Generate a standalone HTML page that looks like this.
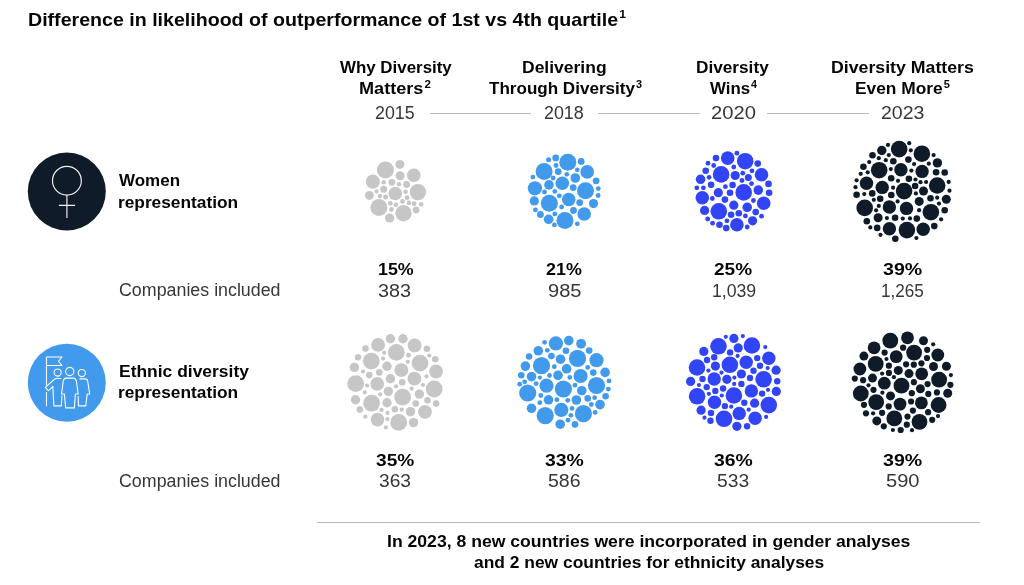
<!DOCTYPE html>
<html lang="en">
<head>
<meta charset="utf-8">
<title>Difference in likelihood of outperformance</title>
<style>
html,body{margin:0;padding:0;background:#fff;}
body{width:1024px;height:585px;position:relative;overflow:hidden;font-family:"Liberation Sans",sans-serif;color:#000;}
.t{position:absolute;white-space:nowrap;line-height:20px;transform-origin:0 50%;}
.b{font-weight:700;font-size:16.5px;color:#050505;}
.r{font-weight:400;font-size:17.5px;color:#363636;}
sup{font-size:10.5px;line-height:0;vertical-align:baseline;position:relative;top:-6px;letter-spacing:0;margin-left:1px;}
.title{font-size:18.5px;font-weight:700;line-height:22px;color:#050505;}
.title sup{font-size:11.5px;top:-8px;}
.ln{position:absolute;height:1px;background:#b3bcc0;top:112.6px;}
.rule{position:absolute;left:317px;width:663px;top:521.6px;height:1.2px;background:#b9b9b9;}
svg{position:absolute;left:0;top:0;}
</style>
</head>
<body>
<div class="t title" style="left:28.46px;top:9.3px;transform:scaleX(1.0592);">Difference in likelihood of outperformance of 1st vs 4th quartile<sup>1</sup></div>
<div class="t b" style="left:339.64px;top:56.6px;transform:scaleX(1.0241);">Why Diversity</div>
<div class="t b" style="left:359.12px;top:77.9px;transform:scaleX(1.0967);">Matters<sup>2</sup></div>
<div class="t r" style="left:374.98px;top:102.5px;transform:scaleX(1.0157);">2015</div>
<div class="t b" style="left:522.02px;top:56.6px;transform:scaleX(1.0601);">Delivering</div>
<div class="t b" style="left:489.13px;top:77.9px;transform:scaleX(1.0334);">Through Diversity<sup>3</sup></div>
<div class="t r" style="left:543.61px;top:102.5px;transform:scaleX(1.0201);">2018</div>
<div class="t b" style="left:696.48px;top:56.6px;transform:scaleX(1.0430);">Diversity</div>
<div class="t b" style="left:709.60px;top:77.9px;transform:scaleX(1.0199);">Wins<sup>4</sup></div>
<div class="t r" style="left:711.10px;top:102.5px;transform:scaleX(1.1525);">2020</div>
<div class="t b" style="left:830.53px;top:56.6px;transform:scaleX(1.0743);">Diversity Matters</div>
<div class="t b" style="left:854.95px;top:77.9px;transform:scaleX(1.0511);">Even More<sup>5</sup></div>
<div class="t r" style="left:880.83px;top:102.5px;transform:scaleX(1.1154);">2023</div>
<div class="t b" style="left:118.70px;top:170.1px;transform:scaleX(1.0291);">Women</div>
<div class="t b" style="left:117.59px;top:191.7px;transform:scaleX(1.0474);">representation</div>
<div class="t r" style="left:118.82px;top:280.3px;transform:scaleX(1.0187);">Companies included</div>
<div class="t b" style="left:119.06px;top:361px;transform:scaleX(1.0571);">Ethnic diversity</div>
<div class="t b" style="left:117.59px;top:382.4px;transform:scaleX(1.0474);">representation</div>
<div class="t r" style="left:118.82px;top:471.4px;transform:scaleX(1.0187);">Companies included</div>
<div class="t b" style="left:378.15px;top:259.4px;transform:scaleX(1.0794);">15%</div>
<div class="t r" style="left:378.48px;top:280.6px;transform:scaleX(1.1287);">383</div>
<div class="t b" style="left:546.15px;top:259.4px;transform:scaleX(1.0844);">21%</div>
<div class="t r" style="left:547.72px;top:280.6px;transform:scaleX(1.1478);">985</div>
<div class="t b" style="left:714.36px;top:259.4px;transform:scaleX(1.1524);">25%</div>
<div class="t r" style="left:711.52px;top:280.6px;transform:scaleX(1.0085);">1,039</div>
<div class="t b" style="left:883.09px;top:259.4px;transform:scaleX(1.1867);">39%</div>
<div class="t r" style="left:881.24px;top:280.6px;transform:scaleX(0.9795);">1,265</div>
<div class="t b" style="left:376.03px;top:450.2px;transform:scaleX(1.1593);">35%</div>
<div class="t r" style="left:378.78px;top:471.4px;transform:scaleX(1.0949);">363</div>
<div class="t b" style="left:545.15px;top:450.2px;transform:scaleX(1.1744);">33%</div>
<div class="t r" style="left:548.06px;top:471.4px;transform:scaleX(1.1148);">586</div>
<div class="t b" style="left:714.15px;top:450.2px;transform:scaleX(1.1742);">36%</div>
<div class="t r" style="left:717.41px;top:471.4px;transform:scaleX(1.0989);">533</div>
<div class="t b" style="left:883.09px;top:450.2px;transform:scaleX(1.1867);">39%</div>
<div class="t r" style="left:886.12px;top:471.4px;transform:scaleX(1.1484);">590</div>
<div class="t b" style="left:386.53px;top:530.6px;transform:scaleX(1.0669);">In 2023, 8 new countries were incorporated in gender analyses</div>
<div class="t b" style="left:474.20px;top:551.8px;transform:scaleX(1.0551);">and 2 new countries for ethnicity analyses</div>
<div class="ln" style="left:429.5px;width:101px"></div>
<div class="ln" style="left:598px;width:101.5px"></div>
<div class="ln" style="left:767.2px;width:102px"></div>
<div class="rule"></div>
<svg width="1024" height="585" viewBox="0 0 1024 585">
<circle cx="66.8" cy="191.5" r="39" fill="#0f1b29"/>
<g fill="none" stroke="#f2f2f2" stroke-width="1.15">
<circle cx="66.9" cy="180.7" r="14.4"/>
<path d="M66.9 195.3V217.9M58.9 205.3H75.1"/>
</g>
<circle cx="66.8" cy="382.7" r="39" fill="#429aec"/>
<g transform="translate(40 352) scale(0.10256)" fill="none" stroke="#ffffff" stroke-width="10.5" stroke-linejoin="round" stroke-linecap="butt">
<path d="M63 325V48H215L180 90L215 132H63"/>
<path d="M63 390V530"/>
<circle cx="172" cy="200" r="35"/>
<circle cx="290" cy="190" r="40"/>
<circle cx="408" cy="205" r="35"/>
<path d="M205 258H160Q148 258 138 268L52 345L82 378L125 335L135 525H208L214 425"/>
<path d="M258 255H325Q350 255 355 285L372 410H345L335 545H250L238 410H210L226 285Q230 255 258 255Z"/>
<path d="M385 262H440Q462 262 466 290L485 410H460L447 525H375L372 430"/>
</g>

<g fill="#c6c6c6">
<circle cx="385.4" cy="170.1" r="8.5"/>
<circle cx="399.9" cy="164.4" r="4.5"/>
<circle cx="413.8" cy="175.3" r="6.8"/>
<circle cx="400.1" cy="175.7" r="4.5"/>
<circle cx="372.8" cy="181.7" r="7.1"/>
<circle cx="417.9" cy="192.1" r="8.2"/>
<circle cx="395.3" cy="193.5" r="6.8"/>
<circle cx="378.9" cy="207.4" r="8.5"/>
<circle cx="403.5" cy="213.2" r="8.2"/>
<circle cx="389.6" cy="218.0" r="4.6"/>
<circle cx="369.4" cy="195.4" r="4.5"/>
<circle cx="391.9" cy="182.3" r="3.4"/>
<circle cx="406.6" cy="184.5" r="3.4"/>
<circle cx="383.7" cy="189.2" r="3.5"/>
<circle cx="383.7" cy="182.3" r="2.3"/>
<circle cx="399.0" cy="184.2" r="2.3"/>
<circle cx="376.6" cy="191.4" r="2.1"/>
<circle cx="379.9" cy="196.1" r="2.3"/>
<circle cx="385.6" cy="197.0" r="2.5"/>
<circle cx="405.6" cy="191.8" r="2.3"/>
<circle cx="407.1" cy="197.7" r="2.4"/>
<circle cx="402.5" cy="201.4" r="2.4"/>
<circle cx="390.3" cy="203.3" r="2.4"/>
<circle cx="395.8" cy="204.7" r="2.3"/>
<circle cx="391.5" cy="209.5" r="2.4"/>
<circle cx="409.0" cy="202.9" r="2.3"/>
<circle cx="414.1" cy="203.7" r="2.4"/>
<circle cx="421.1" cy="204.3" r="2.3"/>
<circle cx="416.1" cy="210.0" r="3.4"/>
</g>
<g fill="#429aec">
<circle cx="567.8" cy="162.3" r="8.5"/>
<circle cx="544.1" cy="171.5" r="8.5"/>
<circle cx="587.2" cy="171.9" r="6.8"/>
<circle cx="534.9" cy="188.3" r="7.1"/>
<circle cx="585.5" cy="190.8" r="8.5"/>
<circle cx="562.3" cy="183.2" r="6.8"/>
<circle cx="568.7" cy="199.5" r="6.8"/>
<circle cx="549.3" cy="203.3" r="8.5"/>
<circle cx="565.0" cy="220.4" r="8.5"/>
<circle cx="584.2" cy="214.0" r="6.8"/>
<circle cx="555.7" cy="157.9" r="3.4"/>
<circle cx="548.6" cy="159.8" r="2.5"/>
<circle cx="581.2" cy="161.4" r="3.4"/>
<circle cx="556.1" cy="165.5" r="2.4"/>
<circle cx="558.2" cy="171.6" r="3.4"/>
<circle cx="577.3" cy="169.8" r="2.4"/>
<circle cx="566.8" cy="174.3" r="2.4"/>
<circle cx="575.3" cy="178.0" r="4.8"/>
<circle cx="532.9" cy="177.1" r="2.4"/>
<circle cx="553.1" cy="178.0" r="2.4"/>
<circle cx="549.0" cy="184.9" r="4.8"/>
<circle cx="596.1" cy="180.8" r="3.4"/>
<circle cx="573.2" cy="187.6" r="3.4"/>
<circle cx="598.3" cy="188.6" r="2.4"/>
<circle cx="544.5" cy="192.0" r="2.4"/>
<circle cx="554.8" cy="191.4" r="2.4"/>
<circle cx="559.3" cy="195.8" r="2.4"/>
<circle cx="598.1" cy="195.5" r="2.4"/>
<circle cx="534.3" cy="200.9" r="4.6"/>
<circle cx="579.7" cy="202.6" r="3.4"/>
<circle cx="593.5" cy="203.6" r="4.6"/>
<circle cx="561.6" cy="207.0" r="2.4"/>
<circle cx="535.4" cy="209.9" r="2.4"/>
<circle cx="573.5" cy="210.4" r="3.4"/>
<circle cx="540.4" cy="214.5" r="3.4"/>
<circle cx="554.8" cy="213.9" r="2.4"/>
<circle cx="548.6" cy="219.3" r="4.8"/>
<circle cx="554.4" cy="224.9" r="2.4"/>
<circle cx="577.3" cy="223.8" r="2.4"/>
</g>
<g fill="#3145f6">
<circle cx="727.7" cy="158.1" r="6.8"/>
<circle cx="745.2" cy="161.2" r="8.3"/>
<circle cx="721.1" cy="174.4" r="8.3"/>
<circle cx="761.5" cy="174.7" r="6.8"/>
<circle cx="743.7" cy="192.4" r="8.3"/>
<circle cx="702.3" cy="197.8" r="6.8"/>
<circle cx="763.7" cy="203.2" r="6.8"/>
<circle cx="718.8" cy="211.3" r="8.3"/>
<circle cx="736.9" cy="224.7" r="6.8"/>
<circle cx="700.6" cy="179.3" r="4.8"/>
<circle cx="735.2" cy="175.5" r="4.6"/>
<circle cx="758.3" cy="190.1" r="4.8"/>
<circle cx="718.3" cy="192.7" r="4.6"/>
<circle cx="733.8" cy="205.2" r="4.6"/>
<circle cx="747.2" cy="207.3" r="4.8"/>
<circle cx="704.6" cy="210.4" r="4.6"/>
<circle cx="752.6" cy="220.8" r="4.6"/>
<circle cx="716.0" cy="158.1" r="3.3"/>
<circle cx="736.9" cy="153.2" r="2.4"/>
<circle cx="757.7" cy="163.6" r="3.3"/>
<circle cx="708.0" cy="163.2" r="2.4"/>
<circle cx="713.7" cy="165.5" r="2.4"/>
<circle cx="733.8" cy="167.0" r="2.4"/>
<circle cx="705.7" cy="170.8" r="3.3"/>
<circle cx="752.0" cy="170.8" r="2.4"/>
<circle cx="742.8" cy="173.2" r="2.4"/>
<circle cx="709.1" cy="177.3" r="2.4"/>
<circle cx="748.3" cy="177.5" r="3.5"/>
<circle cx="742.0" cy="180.5" r="2.4"/>
<circle cx="711.1" cy="184.7" r="3.3"/>
<circle cx="751.5" cy="183.6" r="2.4"/>
<circle cx="768.5" cy="183.9" r="3.3"/>
<circle cx="732.6" cy="185.0" r="3.3"/>
<circle cx="725.4" cy="186.7" r="2.4"/>
<circle cx="696.8" cy="187.8" r="2.4"/>
<circle cx="703.4" cy="187.8" r="2.4"/>
<circle cx="730.0" cy="192.8" r="3.3"/>
<circle cx="769.1" cy="192.8" r="3.3"/>
<circle cx="712.3" cy="198.5" r="2.4"/>
<circle cx="724.9" cy="199.6" r="3.3"/>
<circle cx="753.4" cy="200.5" r="2.4"/>
<circle cx="755.7" cy="212.1" r="3.3"/>
<circle cx="738.8" cy="213.2" r="3.3"/>
<circle cx="731.1" cy="214.7" r="3.3"/>
<circle cx="745.4" cy="215.9" r="2.4"/>
<circle cx="761.5" cy="216.2" r="2.4"/>
<circle cx="707.7" cy="219.0" r="2.4"/>
<circle cx="726.9" cy="220.8" r="2.4"/>
<circle cx="712.6" cy="223.2" r="2.4"/>
<circle cx="719.5" cy="224.7" r="3.3"/>
<circle cx="726.2" cy="228.1" r="3.3"/>
<circle cx="747.2" cy="227.0" r="2.4"/>
</g>
<g fill="#0f1b29">
<circle cx="899.2" cy="149.1" r="8.3"/>
<circle cx="921.9" cy="153.7" r="8.3"/>
<circle cx="879.2" cy="170.2" r="8.3"/>
<circle cx="900.9" cy="169.8" r="6.7"/>
<circle cx="922.1" cy="171.4" r="6.7"/>
<circle cx="881.8" cy="150.5" r="4.7"/>
<circle cx="872.5" cy="155.3" r="3.3"/>
<circle cx="888.0" cy="144.9" r="2.1"/>
<circle cx="909.2" cy="143.2" r="2.1"/>
<circle cx="910.8" cy="150.3" r="2.1"/>
<circle cx="888.8" cy="155.1" r="2.1"/>
<circle cx="878.8" cy="158.2" r="2.1"/>
<circle cx="885.8" cy="160.2" r="2.1"/>
<circle cx="893.3" cy="161.2" r="3.3"/>
<circle cx="908.4" cy="159.6" r="3.3"/>
<circle cx="933.6" cy="155.1" r="2.1"/>
<circle cx="937.4" cy="162.9" r="4.7"/>
<circle cx="928.8" cy="163.7" r="2.1"/>
<circle cx="914.1" cy="164.1" r="2.1"/>
<circle cx="869.2" cy="162.1" r="2.1"/>
<circle cx="863.4" cy="166.8" r="3.3"/>
<circle cx="867.7" cy="172.3" r="2.1"/>
<circle cx="860.7" cy="173.8" r="2.1"/>
<circle cx="890.8" cy="169.1" r="2.1"/>
<circle cx="911.4" cy="170.6" r="2.1"/>
<circle cx="936.1" cy="172.2" r="3.3"/>
<circle cx="944.7" cy="172.5" r="3.3"/>
<circle cx="891.2" cy="178.2" r="3.3"/>
<circle cx="898.0" cy="180.8" r="2.1"/>
<circle cx="908.9" cy="178.8" r="3.3"/>
<circle cx="915.5" cy="179.5" r="2.1"/>
<circle cx="920.5" cy="182.2" r="2.1"/>
<circle cx="926.1" cy="182.0" r="2.1"/>
<circle cx="856.6" cy="180.3" r="2.1"/>
<circle cx="948.7" cy="181.9" r="2.1"/>
</g>
<g fill="#0f1b29">
<circle cx="866.5" cy="183.3" r="6.7"/>
<circle cx="882.2" cy="187.4" r="6.7"/>
<circle cx="904.1" cy="191.1" r="8.3"/>
<circle cx="937.2" cy="185.5" r="8.3"/>
<circle cx="923.5" cy="191.0" r="4.5"/>
<circle cx="915.1" cy="186.0" r="3.3"/>
<circle cx="893.1" cy="187.7" r="2.1"/>
<circle cx="855.5" cy="187.2" r="2.1"/>
<circle cx="949.5" cy="190.7" r="2.1"/>
<circle cx="856.6" cy="194.8" r="3.3"/>
<circle cx="864.3" cy="194.1" r="2.1"/>
<circle cx="872.2" cy="193.4" r="3.3"/>
<circle cx="891.3" cy="195.0" r="3.3"/>
<circle cx="915.9" cy="193.4" r="2.1"/>
<circle cx="873.8" cy="199.8" r="2.1"/>
<circle cx="880.2" cy="198.7" r="3.3"/>
<circle cx="897.6" cy="201.4" r="2.1"/>
<circle cx="919.2" cy="201.4" r="4.5"/>
<circle cx="930.5" cy="198.2" r="3.3"/>
<circle cx="937.2" cy="197.7" r="2.1"/>
<circle cx="946.3" cy="199.3" r="4.5"/>
<circle cx="939.0" cy="203.6" r="2.1"/>
<circle cx="864.7" cy="207.9" r="8.3"/>
<circle cx="878.8" cy="205.9" r="2.1"/>
<circle cx="889.4" cy="207.0" r="6.7"/>
<circle cx="906.5" cy="208.4" r="6.7"/>
<circle cx="876.1" cy="210.3" r="2.1"/>
<circle cx="919.1" cy="210.2" r="2.1"/>
<circle cx="930.9" cy="212.2" r="8.3"/>
<circle cx="944.7" cy="210.3" r="3.3"/>
<circle cx="878.1" cy="217.8" r="4.5"/>
<circle cx="886.9" cy="218.1" r="2.1"/>
<circle cx="895.1" cy="217.7" r="3.3"/>
<circle cx="902.8" cy="218.6" r="2.1"/>
<circle cx="910.0" cy="218.4" r="2.1"/>
<circle cx="916.8" cy="218.6" r="3.3"/>
<circle cx="941.1" cy="219.3" r="2.1"/>
<circle cx="866.8" cy="221.3" r="3.3"/>
<circle cx="870.3" cy="227.4" r="2.1"/>
<circle cx="877.2" cy="227.9" r="3.3"/>
<circle cx="889.4" cy="228.8" r="6.7"/>
<circle cx="906.9" cy="230.1" r="8.3"/>
<circle cx="923.2" cy="229.3" r="6.7"/>
<circle cx="934.3" cy="226.1" r="3.3"/>
<circle cx="880.5" cy="234.8" r="2.1"/>
<circle cx="895.3" cy="238.8" r="3.3"/>
<circle cx="916.4" cy="238.0" r="2.1"/>
</g>
<g fill="#c6c6c6">
<circle cx="390.4" cy="338.7" r="4.7"/>
<circle cx="403.0" cy="338.7" r="4.7"/>
<circle cx="378.1" cy="344.9" r="6.9"/>
<circle cx="414.6" cy="345.5" r="6.9"/>
<circle cx="365.5" cy="348.6" r="3.3"/>
<circle cx="396.3" cy="352.4" r="8.4"/>
<circle cx="426.9" cy="348.7" r="3.2"/>
<circle cx="384.2" cy="352.7" r="2.1"/>
<circle cx="408.5" cy="355.2" r="2.4"/>
<circle cx="429.3" cy="355.6" r="2.1"/>
<circle cx="358.0" cy="357.2" r="3.2"/>
<circle cx="371.3" cy="361.1" r="8.4"/>
<circle cx="383.1" cy="358.6" r="2.1"/>
<circle cx="435.2" cy="359.2" r="3.3"/>
<circle cx="420.0" cy="363.1" r="8.4"/>
<circle cx="407.8" cy="361.8" r="2.1"/>
<circle cx="354.4" cy="367.4" r="4.7"/>
<circle cx="387.0" cy="366.3" r="4.7"/>
<circle cx="401.4" cy="370.2" r="6.9"/>
<circle cx="436.1" cy="371.5" r="6.9"/>
<circle cx="363.0" cy="371.5" r="2.1"/>
<circle cx="379.3" cy="372.4" r="3.3"/>
<circle cx="369.3" cy="375.1" r="3.3"/>
<circle cx="414.4" cy="378.7" r="6.9"/>
<circle cx="390.4" cy="378.7" r="4.7"/>
<circle cx="426.6" cy="376.3" r="2.1"/>
</g>
<g fill="#c6c6c6">
<circle cx="355.7" cy="383.6" r="8.4"/>
<circle cx="377.2" cy="383.9" r="6.8"/>
<circle cx="402.2" cy="382.3" r="3.3"/>
<circle cx="434.2" cy="389.0" r="8.4"/>
<circle cx="367.1" cy="385.5" r="2.1"/>
<circle cx="396.0" cy="386.3" r="2.1"/>
<circle cx="423.0" cy="385.0" r="2.1"/>
<circle cx="411.6" cy="388.7" r="2.1"/>
<circle cx="364.8" cy="392.3" r="2.1"/>
<circle cx="388.3" cy="391.4" r="4.7"/>
<circle cx="380.2" cy="394.3" r="2.1"/>
<circle cx="419.4" cy="394.1" r="4.7"/>
<circle cx="402.6" cy="397.1" r="8.4"/>
<circle cx="355.5" cy="399.8" r="4.7"/>
<circle cx="371.6" cy="403.2" r="8.4"/>
<circle cx="387.0" cy="402.7" r="4.7"/>
<circle cx="427.5" cy="400.3" r="3.3"/>
<circle cx="436.1" cy="403.6" r="3.3"/>
<circle cx="415.7" cy="403.6" r="3.3"/>
<circle cx="359.8" cy="409.5" r="3.3"/>
<circle cx="381.6" cy="409.9" r="2.1"/>
<circle cx="394.9" cy="409.2" r="3.3"/>
<circle cx="401.7" cy="409.7" r="2.1"/>
<circle cx="410.5" cy="411.6" r="4.7"/>
<circle cx="425.0" cy="411.8" r="6.9"/>
<circle cx="387.5" cy="412.9" r="2.1"/>
<circle cx="365.4" cy="416.7" r="2.1"/>
<circle cx="377.5" cy="419.6" r="6.8"/>
<circle cx="387.4" cy="419.1" r="2.1"/>
<circle cx="398.7" cy="422.4" r="8.4"/>
<circle cx="413.5" cy="422.6" r="4.7"/>
<circle cx="385.9" cy="427.4" r="2.1"/>
</g>
<g fill="#429aec">
<circle cx="555.9" cy="343.4" r="7.1"/>
<circle cx="568.8" cy="340.6" r="4.8"/>
<circle cx="581.1" cy="343.8" r="4.9"/>
<circle cx="544.6" cy="342.3" r="2.4"/>
<circle cx="538.3" cy="350.8" r="4.8"/>
<circle cx="547.3" cy="350.3" r="2.4"/>
<circle cx="565.9" cy="350.8" r="3.3"/>
<circle cx="589.2" cy="350.6" r="3.3"/>
<circle cx="529.1" cy="356.5" r="3.3"/>
<circle cx="551.4" cy="356.1" r="3.3"/>
<circle cx="577.5" cy="358.4" r="8.6"/>
<circle cx="560.5" cy="359.2" r="4.8"/>
<circle cx="596.5" cy="360.2" r="7.1"/>
<circle cx="541.5" cy="365.6" r="8.6"/>
<circle cx="525.4" cy="366.1" r="4.8"/>
<circle cx="554.3" cy="366.7" r="2.4"/>
<circle cx="566.6" cy="368.8" r="4.8"/>
<circle cx="587.7" cy="367.4" r="2.4"/>
<circle cx="521.3" cy="375.3" r="3.3"/>
<circle cx="531.5" cy="376.6" r="4.8"/>
<circle cx="539.9" cy="377.6" r="2.1"/>
<circle cx="549.5" cy="375.5" r="2.4"/>
<circle cx="558.0" cy="375.3" r="4.8"/>
<circle cx="569.8" cy="377.4" r="2.4"/>
<circle cx="580.6" cy="376.0" r="7.1"/>
<circle cx="593.3" cy="372.6" r="3.3"/>
<circle cx="605.1" cy="372.4" r="4.8"/>
</g>
<g fill="#429aec">
<circle cx="524.7" cy="381.8" r="2.4"/>
<circle cx="519.7" cy="384.2" r="2.4"/>
<circle cx="536.1" cy="383.6" r="2.4"/>
<circle cx="546.5" cy="385.7" r="7.1"/>
<circle cx="563.4" cy="389.0" r="8.6"/>
<circle cx="596.5" cy="385.5" r="8.6"/>
<circle cx="609.0" cy="380.9" r="2.4"/>
<circle cx="575.0" cy="385.2" r="2.4"/>
<circle cx="608.3" cy="389.1" r="2.4"/>
<circle cx="581.8" cy="390.7" r="4.8"/>
<circle cx="527.7" cy="393.0" r="8.6"/>
<circle cx="540.8" cy="395.5" r="2.4"/>
<circle cx="605.6" cy="396.3" r="3.3"/>
<circle cx="548.5" cy="399.8" r="4.8"/>
<circle cx="556.9" cy="399.7" r="2.4"/>
<circle cx="567.8" cy="400.3" r="2.4"/>
<circle cx="576.4" cy="400.0" r="4.8"/>
<circle cx="587.7" cy="398.4" r="3.3"/>
<circle cx="594.6" cy="397.7" r="2.4"/>
<circle cx="539.8" cy="402.7" r="2.4"/>
<circle cx="600.0" cy="404.6" r="4.8"/>
<circle cx="591.3" cy="404.5" r="2.4"/>
<circle cx="531.5" cy="408.3" r="4.8"/>
<circle cx="561.3" cy="409.9" r="7.1"/>
<circle cx="572.1" cy="408.4" r="2.4"/>
<circle cx="595.1" cy="412.4" r="2.4"/>
<circle cx="583.4" cy="413.7" r="8.6"/>
<circle cx="545.2" cy="415.6" r="8.6"/>
<circle cx="570.9" cy="415.3" r="2.4"/>
<circle cx="568.0" cy="420.2" r="2.4"/>
<circle cx="560.2" cy="424.2" r="4.8"/>
<circle cx="575.0" cy="424.4" r="3.3"/>
</g>
<g fill="#3145f6">
<circle cx="725.8" cy="336.8" r="2.1"/>
<circle cx="733.9" cy="338.4" r="4.6"/>
<circle cx="742.8" cy="336.1" r="2.1"/>
<circle cx="718.5" cy="346.3" r="8.3"/>
<circle cx="751.9" cy="345.5" r="8.3"/>
<circle cx="738.2" cy="347.9" r="4.6"/>
<circle cx="765.3" cy="347.1" r="2.1"/>
<circle cx="703.8" cy="351.4" r="4.6"/>
<circle cx="730.1" cy="352.4" r="3.2"/>
<circle cx="737.6" cy="355.9" r="2.1"/>
<circle cx="714.2" cy="357.2" r="3.2"/>
<circle cx="757.2" cy="358.1" r="3.2"/>
<circle cx="768.8" cy="358.3" r="6.7"/>
<circle cx="707.0" cy="360.0" r="3.2"/>
<circle cx="746.2" cy="362.2" r="6.7"/>
<circle cx="729.9" cy="364.8" r="8.3"/>
<circle cx="715.4" cy="366.1" r="4.6"/>
<circle cx="760.0" cy="365.8" r="3.2"/>
<circle cx="697.0" cy="367.5" r="8.3"/>
<circle cx="767.7" cy="368.1" r="2.1"/>
<circle cx="708.4" cy="370.6" r="2.1"/>
<circle cx="776.1" cy="370.2" r="4.6"/>
<circle cx="753.5" cy="370.8" r="3.2"/>
<circle cx="721.5" cy="372.6" r="2.1"/>
<circle cx="741.4" cy="374.0" r="4.6"/>
<circle cx="734.4" cy="377.6" r="2.1"/>
<circle cx="750.0" cy="378.0" r="3.2"/>
<circle cx="702.5" cy="379.0" r="3.2"/>
<circle cx="714.2" cy="379.0" r="6.7"/>
<circle cx="726.9" cy="379.3" r="4.6"/>
<circle cx="763.6" cy="379.3" r="8.3"/>
<circle cx="690.6" cy="381.4" r="4.6"/>
<circle cx="777.2" cy="381.2" r="3.2"/>
</g>
<g fill="#3145f6">
<circle cx="698.9" cy="385.0" r="2.1"/>
<circle cx="706.7" cy="387.1" r="3.2"/>
<circle cx="734.2" cy="383.9" r="2.1"/>
<circle cx="741.4" cy="383.9" r="3.2"/>
<circle cx="723.1" cy="388.5" r="3.2"/>
<circle cx="715.3" cy="390.9" r="3.2"/>
<circle cx="751.4" cy="390.9" r="6.7"/>
<circle cx="768.0" cy="389.8" r="2.1"/>
<circle cx="776.3" cy="391.4" r="4.6"/>
<circle cx="762.1" cy="393.6" r="3.2"/>
<circle cx="708.9" cy="393.8" r="2.1"/>
<circle cx="721.8" cy="395.5" r="2.1"/>
<circle cx="697.1" cy="396.3" r="8.3"/>
<circle cx="733.9" cy="395.5" r="8.3"/>
<circle cx="714.5" cy="402.2" r="6.7"/>
<circle cx="744.3" cy="402.7" r="3.2"/>
<circle cx="754.6" cy="403.2" r="4.6"/>
<circle cx="768.8" cy="405.1" r="8.3"/>
<circle cx="724.9" cy="406.1" r="3.2"/>
<circle cx="731.2" cy="406.7" r="2.1"/>
<circle cx="701.1" cy="410.2" r="4.6"/>
<circle cx="748.7" cy="409.7" r="2.1"/>
<circle cx="711.0" cy="412.9" r="3.2"/>
<circle cx="739.2" cy="413.4" r="6.7"/>
<circle cx="766.1" cy="416.9" r="2.1"/>
<circle cx="704.5" cy="417.7" r="2.1"/>
<circle cx="755.1" cy="418.3" r="6.7"/>
<circle cx="724.0" cy="418.8" r="8.3"/>
<circle cx="710.5" cy="420.8" r="3.2"/>
<circle cx="736.9" cy="426.3" r="4.6"/>
<circle cx="747.1" cy="426.3" r="3.2"/>
</g>
<g fill="#0f1b29">
<circle cx="890.3" cy="340.7" r="7.9"/>
<circle cx="907.5" cy="337.8" r="6.4"/>
<circle cx="923.5" cy="340.8" r="4.5"/>
<circle cx="933.2" cy="344.3" r="2.1"/>
<circle cx="874.1" cy="347.8" r="6.4"/>
<circle cx="903.1" cy="347.7" r="3.1"/>
<circle cx="914.1" cy="352.6" r="7.9"/>
<circle cx="927.2" cy="349.8" r="3.1"/>
<circle cx="884.6" cy="352.6" r="3.1"/>
<circle cx="863.9" cy="356.1" r="4.5"/>
<circle cx="937.8" cy="355.0" r="6.4"/>
<circle cx="896.2" cy="356.6" r="6.4"/>
<circle cx="927.0" cy="358.0" r="3.1"/>
<circle cx="886.5" cy="359.0" r="2.1"/>
<circle cx="875.7" cy="363.9" r="7.9"/>
<circle cx="906.1" cy="364.3" r="3.1"/>
<circle cx="913.8" cy="364.7" r="3.1"/>
<circle cx="921.4" cy="363.3" r="3.1"/>
<circle cx="888.9" cy="365.7" r="3.1"/>
<circle cx="933.5" cy="366.5" r="4.5"/>
<circle cx="946.4" cy="366.3" r="4.5"/>
<circle cx="859.9" cy="369.0" r="6.4"/>
<circle cx="898.3" cy="370.4" r="4.5"/>
<circle cx="888.9" cy="372.9" r="3.1"/>
<circle cx="882.1" cy="373.6" r="2.1"/>
<circle cx="909.0" cy="373.6" r="4.5"/>
<circle cx="921.7" cy="373.8" r="6.4"/>
<circle cx="950.9" cy="375.1" r="2.1"/>
<circle cx="893.9" cy="377.2" r="2.1"/>
<circle cx="872.5" cy="378.1" r="4.5"/>
<circle cx="854.8" cy="378.6" r="3.1"/>
<circle cx="863.1" cy="380.2" r="3.1"/>
<circle cx="939.1" cy="379.7" r="7.9"/>
</g>
<g fill="#0f1b29">
<circle cx="884.3" cy="383.2" r="6.4"/>
<circle cx="901.5" cy="385.7" r="7.9"/>
<circle cx="913.9" cy="382.2" r="3.1"/>
<circle cx="927.6" cy="384.1" r="3.1"/>
<circle cx="950.4" cy="384.8" r="3.1"/>
<circle cx="868.5" cy="385.3" r="2.1"/>
<circle cx="920.4" cy="388.7" r="4.5"/>
<circle cx="873.5" cy="389.8" r="3.1"/>
<circle cx="860.8" cy="393.5" r="7.9"/>
<circle cx="882.4" cy="392.7" r="2.1"/>
<circle cx="911.8" cy="393.2" r="3.1"/>
<circle cx="928.3" cy="393.9" r="3.1"/>
<circle cx="936.9" cy="392.4" r="3.1"/>
<circle cx="947.7" cy="393.2" r="4.5"/>
<circle cx="890.5" cy="395.9" r="4.5"/>
<circle cx="876.2" cy="402.1" r="7.9"/>
<circle cx="911.1" cy="401.5" r="3.1"/>
<circle cx="900.0" cy="404.1" r="6.4"/>
<circle cx="921.4" cy="402.9" r="6.4"/>
<circle cx="938.6" cy="405.0" r="7.9"/>
<circle cx="864.0" cy="404.8" r="3.1"/>
<circle cx="888.7" cy="406.4" r="3.1"/>
<circle cx="912.9" cy="410.6" r="3.1"/>
<circle cx="928.1" cy="412.2" r="3.1"/>
<circle cx="866.0" cy="413.3" r="3.1"/>
<circle cx="873.1" cy="413.3" r="2.1"/>
<circle cx="882.1" cy="412.8" r="3.1"/>
<circle cx="938.0" cy="416.1" r="2.1"/>
<circle cx="907.5" cy="416.6" r="3.1"/>
<circle cx="894.3" cy="418.4" r="7.9"/>
<circle cx="932.2" cy="419.8" r="3.1"/>
<circle cx="876.8" cy="420.9" r="4.5"/>
<circle cx="919.5" cy="421.9" r="7.9"/>
<circle cx="906.8" cy="424.7" r="3.1"/>
<circle cx="883.8" cy="426.3" r="3.1"/>
<circle cx="892.9" cy="430.0" r="2.1"/>
<circle cx="900.7" cy="430.0" r="3.1"/>
<circle cx="912.0" cy="430.2" r="2.1"/>
</g>
</svg>
</body>
</html>
